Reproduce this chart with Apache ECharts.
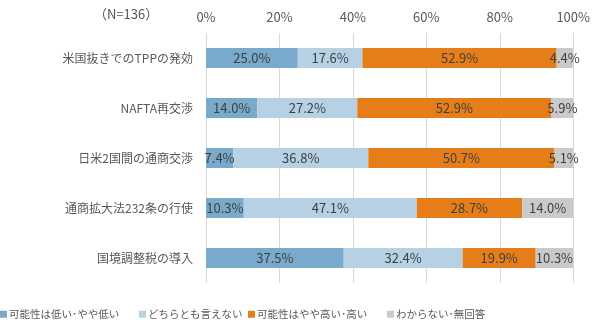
<!DOCTYPE html>
<html>
<head>
<meta charset="utf-8">
<script src="https://cdn.jsdelivr.net/npm/echarts@6/dist/echarts.min.js"></script>
<style>
  html, body { margin: 0; padding: 0; background: #fff; }
  #chart { width: 593px; height: 331px; }
</style>
</head>
<body>
<div id="chart"></div>
<script>
// Survey categories (top to bottom)
const categories = [
  '米国抜きでのTPPの発効',
  'NAFTA再交渉',
  '日米2国間の通商交渉',
  '通商拡大法232条の行使',
  '国境調整税の導入'
];
const seriesNames = [
  '可能性は低い･やや低い',
  'どちらとも言えない',
  '可能性はやや高い･高い',
  'わからない･無回答'
];
const lowValues     = [25.0, 14.0, 7.4, 10.3, 37.5];
const neutralValues = [17.6, 27.2, 36.8, 47.1, 32.4];
const highValues    = [52.9, 52.9, 50.7, 28.7, 19.9];
const unknownValues = [4.4, 5.9, 5.1, 14.0, 10.3];

const colors = ['#79A9CB', '#B5D1E3', '#E57E18', '#CACACA'];
const FONT = '"Noto Sans CJK JP", "Noto Sans", sans-serif';
const seriesData = [lowValues, neutralValues, highValues, unknownValues];

// one legend block per series so each entry sits at its own x position
const legendLefts = [0, 139, 248, 387];

const chart = echarts.init(document.getElementById('chart'));
chart.setOption({
  animation: false,
  textStyle: { fontFamily: FONT },
  grid: { left: 206, right: 19, top: 33, bottom: 48 },
  graphic: [{
    type: 'text', left: 94, top: 8,
    style: { text: '（N=136）', fill: '#595959', font: '13px ' + FONT }
  }],
  xAxis: {
    type: 'value', position: 'top', min: 0, max: 100, interval: 20,
    axisLabel: { formatter: '{value}%', color: '#595959', fontSize: 13, margin: 9, fontFamily: FONT },
    axisLine: { show: false }, axisTick: { show: false },
    splitLine: { lineStyle: { color: '#D9D9D9', width: 1 } }
  },
  yAxis: {
    type: 'category', inverse: true, data: categories,
    axisLabel: { color: '#595959', fontSize: 12, margin: 13, fontFamily: FONT },
    axisLine: { show: false }, axisTick: { show: false }
  },
  legend: seriesNames.map((name, i) => ({
    top: 309, left: legendLefts[i], padding: 0,
    itemWidth: 7, itemHeight: 7, icon: 'rect',
    textStyle: { color: '#595959', fontSize: 10.5, fontFamily: FONT, padding: [0, 0, 0, -3] },
    data: [name]
  })),
  series: seriesNames.map((name, i) => ({
    name, type: 'bar', stack: 'total', barWidth: 20,
    itemStyle: { color: colors[i] },
    label: {
      show: true, position: 'inside', color: '#404040', fontSize: 13, fontFamily: FONT,
      formatter: p => p.value.toFixed(1) + '%'
    },
    data: seriesData[i]
  }))
});
</script>
</body>
</html>
